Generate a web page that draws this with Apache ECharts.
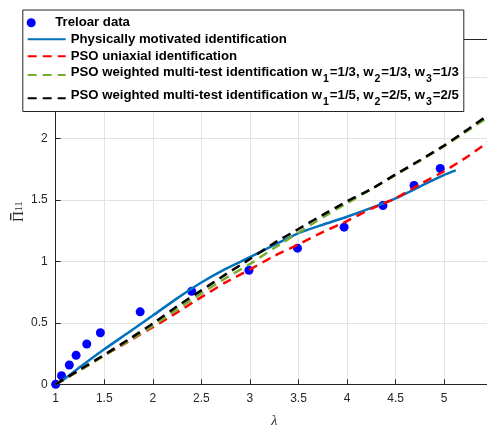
<!DOCTYPE html>
<html>
<head>
<meta charset="utf-8">
<script src="https://cdn.jsdelivr.net/npm/echarts@6/dist/echarts.min.js"></script>
<style>html,body{margin:0;padding:0;background:#fff;}#c{width:487px;height:425px;}</style>
</head>
<body>
<div id="c"></div>
<script>
// ---- data ----
const treloarX = [1.0, 1.06, 1.14, 1.21, 1.32, 1.46, 1.87, 2.40, 2.99, 3.49, 3.97, 4.37, 4.69, 4.96];
const treloarY = [0.0, 0.07, 0.157, 0.236, 0.328, 0.42, 0.59, 0.758, 0.929, 1.109, 1.28, 1.456, 1.62, 1.758];

const physX = [1, 1.1, 1.25, 1.5, 1.75, 2, 2.25, 2.5, 2.75, 3, 3.25, 3.5, 3.75, 4, 4.25, 4.5, 4.75, 5, 5.12];
const physY = [0, 0.05, 0.14, 0.285, 0.422, 0.56, 0.70, 0.829, 0.94, 1.035, 1.135, 1.232, 1.30, 1.365, 1.437, 1.515, 1.61, 1.705, 1.742];

const psoX = [1, 1.25, 1.5, 1.75, 2, 2.25, 2.5, 2.75, 3, 3.25, 3.5, 3.75, 4, 4.25, 4.5, 4.75, 5, 5.25, 5.5];
const psoUniY = [0, 0.115, 0.235, 0.35, 0.465, 0.585, 0.71, 0.83, 0.935, 1.045, 1.14, 1.24, 1.33, 1.43, 1.515, 1.63, 1.735, 1.86, 2.0];
const psoW1Y  = [0, 0.115, 0.235, 0.355, 0.475, 0.61, 0.74, 0.865, 0.98, 1.11, 1.235, 1.36, 1.475, 1.59, 1.705, 1.82, 1.94, 2.07, 2.2];
const psoW2Y  = [0, 0.12, 0.24, 0.365, 0.495, 0.635, 0.765, 0.895, 1.02, 1.15, 1.265, 1.38, 1.49, 1.59, 1.71, 1.825, 1.945, 2.08, 2.22];

const names = [
  'Treloar data',
  'Physically motivated identification',
  'PSO uniaxial identification',
  'PSO weighted multi-test identification w1=1/3, w2=1/3, w3=1/3',
  'PSO weighted multi-test identification w1=1/5, w2=2/5, w3=2/5'
];
const legendRich = [
  null, null, null,
  '{m|PSO weighted multi-test identification w}{s|1}{m|=1/3, w}{s|2}{m|=1/3, w}{s|3}{m|=1/3}',
  '{m|PSO weighted multi-test identification w}{s|1}{m|=1/5, w}{s|2}{m|=2/5, w}{s|3}{m|=2/5}'
];

const zip = (xs, ys) => xs.map((x, i) => [x, ys[i]]);

const axisColor = '#262626';
const font = "'Liberation Sans', Arial, Helvetica, sans-serif";
const serif = "'Liberation Serif', 'DejaVu Serif', serif";

const chart = echarts.init(document.getElementById('c'), null, {renderer: 'canvas'});

const legendTops = [15.7, 32.2, 49.3, 65.5, 88.8];
const legends = names.map((n, i) => {
  const lg = {
    data: [n],
    left: 26.7,
    top: legendTops[i],
    orient: 'vertical',
    padding: 0,
    itemWidth: 38,
    itemHeight: 9,
    selectedMode: false,
    z: 10,
    textStyle: {
      fontFamily: font, fontWeight: 'bold', fontSize: 13.2, color: '#000', lineHeight: 14
    }
  };
  if (i > 0) lg.itemStyle = {opacity: 0};
  if (legendRich[i]) {
    lg.formatter = () => legendRich[i];
    lg.textStyle.rich = {
      m: {fontFamily: font, fontWeight: 'bold', fontSize: 13.2, color: '#000', lineHeight: 19, verticalAlign: 'top'},
      s: {fontFamily: font, fontWeight: 'bold', fontSize: 10.5, color: '#000', lineHeight: 19, verticalAlign: 'bottom', padding: [0, 1, 0, 1]}
    };
  }
  return lg;
});

const lineDash = [9, 6];
const halfStep = v => Math.abs(v * 2 - Math.round(v * 2)) < 1e-6;

const option = {
  animation: false,
  backgroundColor: '#fff',
  grid: {left: 55.7, top: 39.3, right: -5.7, bottom: 40.7, containLabel: false, outerBoundsMode: 'none'},
  legend: legends,
  graphic: [{
    type: 'rect', z: 5, left: 22.3, top: 9.5,
    shape: {width: 441, height: 101.5},
    style: {fill: '#fff', stroke: axisColor, lineWidth: 1}
  }],
  xAxis: [{
    type: 'value', min: 1, max: 5.5, interval: 0.5,
    name: 'λ', nameLocation: 'middle', nameGap: 30, nameMoveOverlap: false,
    nameTextStyle: {fontFamily: "'Liberation Serif', serif", fontStyle: 'italic', fontSize: 14, color: axisColor},
    axisLine: {show: true, onZero: false, lineStyle: {color: axisColor, width: 1}},
    axisTick: {show: true, inside: true, length: 5, lineStyle: {color: axisColor}},
    axisLabel: {color: axisColor, fontSize: 12, fontFamily: font, margin: 8,
      formatter: v => (halfStep(v) && v <= 5 ? String(v) : '')},
    splitLine: {show: true, lineStyle: {color: '#e3e3e3', width: 1}}
  }, {
    type: 'value', min: 1, max: 5.5, interval: 0.5, position: 'top',
    axisLine: {show: true, onZero: false, lineStyle: {color: axisColor, width: 1}},
    axisTick: {show: true, inside: true, length: 5, lineStyle: {color: axisColor}},
    axisLabel: {show: false}, splitLine: {show: false}
  }],
  yAxis: [{
    type: 'value', min: 0, max: 2.81, interval: 0.5,
    name: '{bar|}{pad|}\n{p|Π}{s|11}', nameLocation: 'middle', nameGap: 31, nameRotate: 90, nameMoveOverlap: false,
    nameTextStyle: {
      align: 'center',
      rich: {
        bar: {width: 7, height: 1.3, lineHeight: 2, backgroundColor: axisColor},
        pad: {width: 10, height: 1.3, lineHeight: 2},
        p: {fontFamily: serif, fontSize: 15, color: axisColor, lineHeight: 13, verticalAlign: 'top'},
        s: {fontFamily: serif, fontSize: 10, color: axisColor, lineHeight: 13, verticalAlign: 'bottom'}
      }
    },
    axisLine: {show: true, onZero: false, lineStyle: {color: axisColor, width: 1}},
    axisTick: {show: true, inside: true, length: 5, lineStyle: {color: axisColor}},
    axisLabel: {color: axisColor, fontSize: 12, fontFamily: font, margin: 8,
      formatter: v => (halfStep(v) ? String(v) : '')},
    splitLine: {show: true, lineStyle: {color: '#e3e3e3', width: 1}}
  }, {
    type: 'value', min: 0, max: 2.81, interval: 0.5, position: 'right',
    axisLine: {show: true, onZero: false, lineStyle: {color: axisColor, width: 1}},
    axisTick: {show: true, inside: true, length: 5, lineStyle: {color: axisColor}},
    axisLabel: {show: false}, splitLine: {show: false}
  }],
  series: [
    {name: names[0], type: 'scatter', data: zip(treloarX, treloarY), symbol: 'circle', symbolSize: 9,
     itemStyle: {color: '#0000ff', opacity: 1}, z: 2},
    {name: names[1], type: 'line', data: zip(physX, physY), showSymbol: false, symbol: 'none', smooth: 0.2,
     lineStyle: {color: '#0072BD', width: 2.5, type: 'solid'}, itemStyle: {color: '#0072BD'}, z: 3},
    {name: names[2], type: 'line', data: zip(psoX, psoUniY), showSymbol: false, symbol: 'none', smooth: 0.2,
     lineStyle: {color: '#ff0000', width: 2.5, type: lineDash}, itemStyle: {color: '#ff0000'}, z: 3},
    {name: names[3], type: 'line', data: zip(psoX, psoW1Y), showSymbol: false, symbol: 'none', smooth: 0.2,
     lineStyle: {color: '#77AC30', width: 2.5, type: lineDash}, itemStyle: {color: '#77AC30'}, z: 3},
    {name: names[4], type: 'line', data: zip(psoX, psoW2Y), showSymbol: false, symbol: 'none', smooth: 0.2,
     lineStyle: {color: '#000000', width: 2.5, type: lineDash}, itemStyle: {color: '#000000'}, z: 3}
  ]
};
chart.setOption(option);
</script>
</body>
</html>
